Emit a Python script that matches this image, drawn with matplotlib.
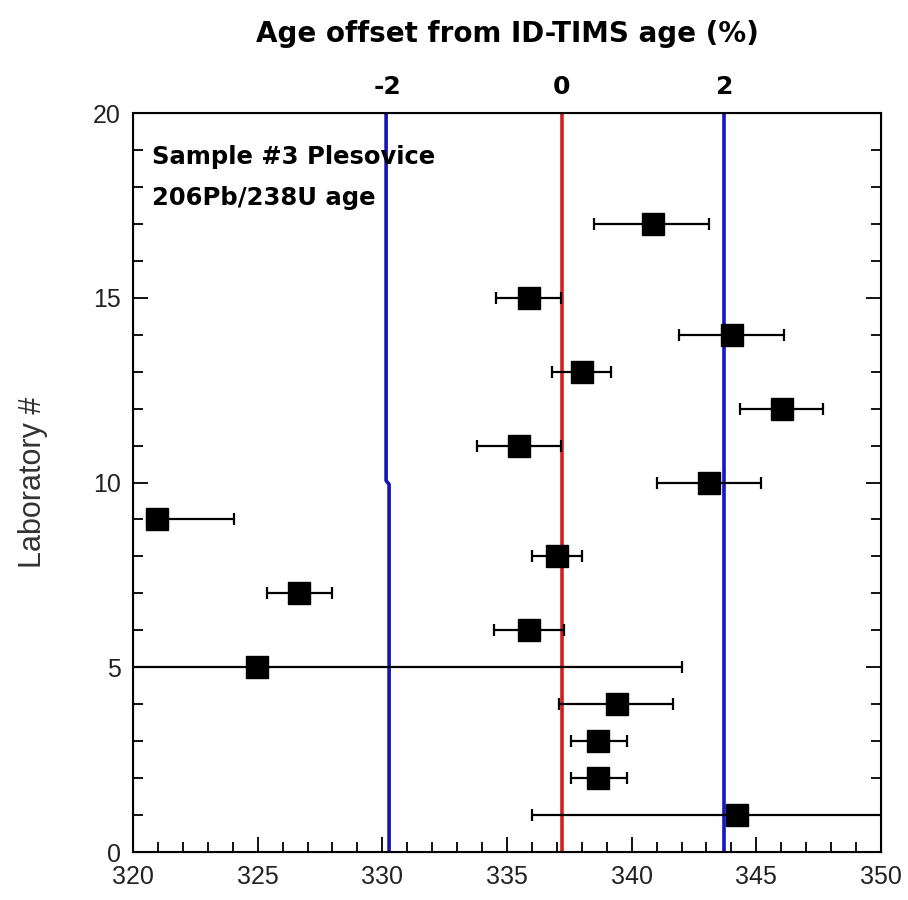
import numpy as np
import matplotlib.pyplot as plt
from matplotlib.ticker import MultipleLocator

# lab number, age (Ma), error bar ends
lab = [17, 15, 14, 13, 12, 11, 10, 9, 8, 7, 6, 5, 4, 3, 2, 1]
age = [340.84, 335.89, 344.01, 338.0, 346.02, 335.48, 343.09, 320.96,
       336.99, 326.65, 335.89, 324.96, 339.4, 338.66, 338.66, 344.21]
err_lo = [2.35, 1.33, 2.1, 1.18, 1.69, 1.69, 2.09, 0.4,
          1.0, 1.26, 1.4, 17.0, 2.31, 1.09, 1.09, 8.22]
err_hi = [2.26, 1.28, 2.09, 1.17, 1.67, 1.69, 2.1, 3.1,
          1.01, 1.32, 1.4, 17.04, 2.27, 1.17, 1.17, 8.22]

ref_age = 337.19
lo_line_x = [330.15, 330.15, 330.27, 330.27]
lo_line_y = [20, 10.05, 9.95, 0]
hi_age = 343.72
pct_ticks = [-2, 0, 2]
pct_pos = [330.2, ref_age, hi_age]

fig = plt.figure(figsize=(9.08, 9.0), dpi=100)
ax = fig.add_axes([0.1465, 0.0533, 0.8238, 0.8211])

ax.plot(lo_line_x, lo_line_y, color='#1414b4', lw=2.6, zorder=1)
ax.axvline(hi_age, color='#1414c8', lw=2.6, zorder=1)
ax.axvline(ref_age, color='#d42020', lw=2.6, zorder=1)

ax.errorbar(age, lab, xerr=[err_lo, err_hi], fmt='s', color='black',
            ms=15.5, elinewidth=1.6, capsize=4.5, capthick=1.6, zorder=3)

ax.set_xlim(320, 350)
ax.set_ylim(0, 20)
ax.xaxis.set_major_locator(MultipleLocator(5))
ax.xaxis.set_minor_locator(MultipleLocator(1))
ax.yaxis.set_major_locator(MultipleLocator(5))
ax.yaxis.set_minor_locator(MultipleLocator(1))
ax.tick_params(which='major', direction='in', length=11, width=1.3,
               top=True, right=True, labelsize=18, pad=9)
ax.tick_params(which='minor', direction='in', length=7, width=1.3,
               top=True, right=True)
for lab_t in ax.get_xticklabels() + ax.get_yticklabels():
    lab_t.set_family(['Liberation Sans', 'DejaVu Sans'])
    lab_t.set_color('#222222')
for s in ax.spines.values():
    s.set_linewidth(1.5)

ax.set_ylabel('Laboratory #', fontsize=22, family=['Liberation Sans', 'DejaVu Sans'],
              labelpad=32, color='#333333')

top = ax.twiny()
top.set_xlim(ax.get_xlim())
top.set_xticks(pct_pos)
top.set_xticklabels([str(t) for t in pct_ticks])
top.tick_params(length=0, labelsize=18, pad=10)
for t in top.get_xticklabels():
    t.set_fontweight('bold')
top.set_xlabel('Age offset from ID-TIMS age (%)', fontsize=20,
               fontweight='bold', labelpad=24)

ax.text(0.025, 0.94, 'Sample #3 Plesovice', transform=ax.transAxes,
        fontsize=17.5, fontweight='bold', va='center', ha='left')
ax.text(0.025, 0.885, '206Pb/238U age', transform=ax.transAxes,
        fontsize=17.5, fontweight='bold', va='center', ha='left')

fig.savefig('out.png', dpi=100)
